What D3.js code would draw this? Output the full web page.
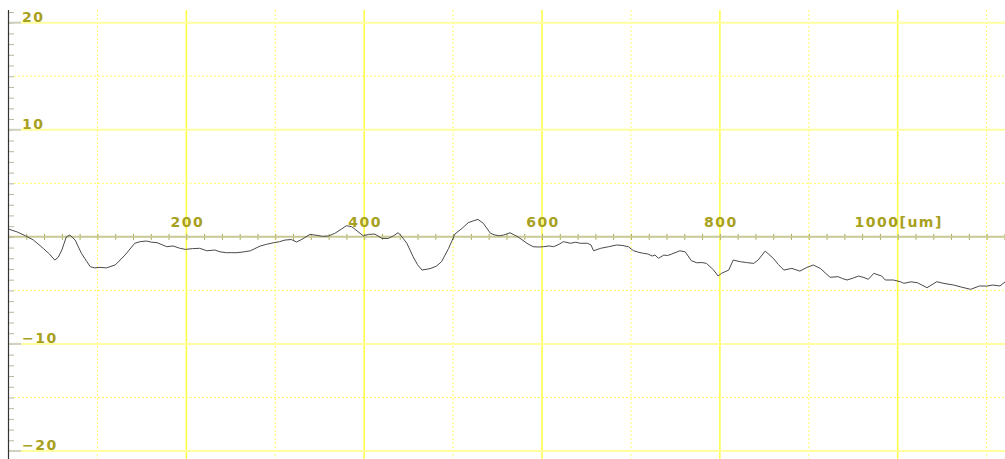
<!DOCTYPE html>
<html>
<head>
<meta charset="utf-8">
<script src="https://cdn.jsdelivr.net/npm/d3@7"></script>
<style>
  html, body { margin: 0; padding: 0; background: #fff; }
  svg { display: block; }
  .lbl { font-family: "DejaVu Sans", sans-serif; font-size: 14px; font-weight: bold; letter-spacing: 1.5px; fill: #a8a020; }
</style>
</head>
<body>
<div id="chart"></div>
<script>
// profile data, position in um and height
const profileX = [0, 10, 19, 28, 39, 46, 52, 56, 60, 65, 69, 75, 82, 88, 92, 97, 103, 110, 120, 131, 142, 148, 155, 161, 167, 178, 185, 192, 199, 207, 215, 223, 232, 238, 245, 257, 265, 272, 283, 290, 298, 305, 311, 318, 324, 330, 339, 347, 353, 360, 367, 374, 380, 386, 393, 399, 405, 412, 420, 427, 433, 438, 440, 448, 455, 460, 465, 474, 481, 487, 495, 502, 510, 517, 523, 528, 534, 542, 547, 552, 557, 564, 573, 583, 590, 596, 602, 608, 613, 619, 624, 632, 638, 643, 651, 655, 658, 666, 675, 684, 690, 697, 703, 709, 714, 719, 724, 727, 731, 737, 741, 746, 755, 761, 768, 774, 780, 785, 793, 798, 802, 810, 815, 823, 830, 838, 843, 851, 860, 866, 872, 881, 890, 898, 905, 913, 924, 933, 938, 943, 950, 956, 962, 967, 973, 982, 986, 995, 1003, 1007, 1015, 1022, 1033, 1044, 1052, 1063, 1072, 1082, 1092, 1100, 1107, 1115, 1121];
const profileY = [0.73, 0.45, 0.1, -0.3, -1.07, -1.6, -2.17, -1.9, -1.23, 0, 0.17, -0.3, -1.54, -2.3, -2.79, -2.9, -2.85, -2.9, -2.63, -1.7, -0.6, -0.45, -0.39, -0.5, -0.54, -0.92, -0.85, -1.05, -1.17, -1.1, -1.07, -1.3, -1.23, -1.4, -1.48, -1.48, -1.4, -1.3, -0.86, -0.7, -0.55, -0.45, -0.3, -0.25, -0.48, -0.23, 0.23, 0.14, 0.05, 0.08, 0.33, 0.7, 1.04, 0.95, 0.48, 0.1, 0.23, 0.26, -0.15, -0.15, 0.1, 0.38, 0.26, -0.6, -1.85, -2.6, -3.1, -2.97, -2.75, -2.32, -1.07, 0.26, 0.79, 1.32, 1.5, 1.63, 1.26, 0.33, 0.17, 0.1, 0.17, 0.38, 0, -0.6, -0.92, -0.95, -0.92, -0.85, -0.92, -0.7, -0.45, -0.6, -0.5, -0.6, -0.6, -0.75, -1.3, -1.07, -0.92, -0.76, -0.8, -0.92, -1.3, -1.45, -1.54, -1.6, -1.79, -1.7, -2.0, -1.7, -1.75, -1.6, -1.3, -1.4, -2.23, -2.42, -2.4, -2.48, -3.1, -3.66, -3.4, -3.1, -2.17, -2.32, -2.4, -2.48, -2.17, -1.33, -2.0, -2.6, -3.1, -2.95, -3.2, -2.85, -2.63, -2.95, -3.78, -3.72, -3.9, -4.03, -3.85, -3.66, -3.8, -3.97, -3.41, -3.66, -4.03, -4.03, -4.19, -4.34, -4.2, -4.28, -4.75, -4.19, -4.35, -4.5, -4.7, -4.9, -4.59, -4.6, -4.5, -4.59, -4.19];

const labelsX = [200, 400, 600, 800, 1000];
const labelTextX = ["200", "400", "600", "800", "1000[um]"];
const labelsY = [20, 10, -10, -20];
const solidGridX = [200, 400, 600, 800, 1000];
const dottedGridX = [100, 300, 500, 700, 900, 1100];
const solidGridY = [20, 10, -10, -20];
const dottedGridY = [15, 5, -5, -15];

const width = 1005, height = 459;

const svg = d3.select("#chart").append("svg")
  .attr("width", width)
  .attr("height", height);

// scales: x 0 sits on the left axis line
const x = d3.scaleLinear().domain([0, 1000]).range([8.5, 897.7]);
const y = d3.scaleLinear().domain([-20, 20]).range([451, 22.7]);

// vertical grid
svg.append("g").selectAll("line").data(dottedGridX).join("line")
  .attr("x1", d => x(d)).attr("x2", d => x(d))
  .attr("y1", 10).attr("y2", height)
  .attr("stroke", "#ffff66").attr("stroke-width", 1)
  .attr("stroke-dasharray", "2,2");

svg.append("g").selectAll("line").data(solidGridX).join("line")
  .attr("x1", d => x(d)).attr("x2", d => x(d))
  .attr("y1", 10).attr("y2", height)
  .attr("stroke", "#ffff40").attr("stroke-width", 1.5);

// horizontal grid
svg.append("g").selectAll("line").data(dottedGridY).join("line")
  .attr("x1", 14).attr("x2", width)
  .attr("y1", d => y(d)).attr("y2", d => y(d))
  .attr("stroke", "#ffff66").attr("stroke-width", 1)
  .attr("stroke-dasharray", "2,2");

svg.append("g").selectAll("line").data(solidGridY).join("line")
  .attr("x1", 20).attr("x2", width)
  .attr("y1", d => y(d)).attr("y2", d => y(d))
  .attr("stroke", "#ffffa0").attr("stroke-width", 2);

// x axis along zero
const xAxis = svg.append("g")
  .attr("transform", `translate(0,${y(0)})`)
  .call(d3.axisBottom(x).tickValues(d3.range(20, 1121, 20)).tickSize(3).tickFormat(""));
xAxis.select(".domain").remove();
xAxis.selectAll(".tick line").attr("y1", -3).attr("y2", 3)
  .attr("stroke", "#a8a850");
svg.append("line")
  .attr("x1", 8).attr("x2", width)
  .attr("y1", y(0)).attr("y2", y(0))
  .attr("stroke", "#c8c894").attr("stroke-width", 2);

// y axis: minor ticks every unit, longer grey ticks on labelled values
const yAxis = svg.append("g")
  .attr("transform", `translate(9,0)`)
  .call(d3.axisRight(y).tickValues(d3.range(-20, 22, 1)).tickSize(5).tickFormat(""));
yAxis.select(".domain").remove();
yAxis.selectAll(".tick line").attr("stroke", "#b8b8a0").attr("stroke-width", 1);
svg.append("g").selectAll("line").data(labelsY).join("line")
  .attr("x1", 9).attr("x2", 21)
  .attr("y1", d => y(d)).attr("y2", d => y(d))
  .attr("stroke", "#d0d0c0").attr("stroke-width", 2);
svg.append("line")
  .attr("x1", 8.5).attr("x2", 8.5)
  .attr("y1", 10).attr("y2", height)
  .attr("stroke", "#333").attr("stroke-width", 1.2);

// labels
svg.append("g").selectAll("text").data(labelsY).join("text")
  .attr("class", "lbl")
  .attr("x", 22).attr("y", d => y(d) - 1)
  .text(d => d < 0 ? "\u2212" + Math.abs(d) : d);

svg.append("g").selectAll("text").data(labelsX).join("text")
  .attr("class", "lbl")
  .attr("x", (d, i) => x(d) + 1).attr("y", y(0) - 10)
  .attr("text-anchor", "middle")
  .text((d, i) => labelTextX[i]);

// profile line
const line = d3.line()
  .x((d, i) => x(profileX[i]))
  .y(d => y(d));

svg.append("path")
  .datum(profileY)
  .attr("d", line)
  .attr("fill", "none")
  .attr("stroke", "#4a4a4a")
  .attr("stroke-width", 1);
</script>
</body>
</html>
